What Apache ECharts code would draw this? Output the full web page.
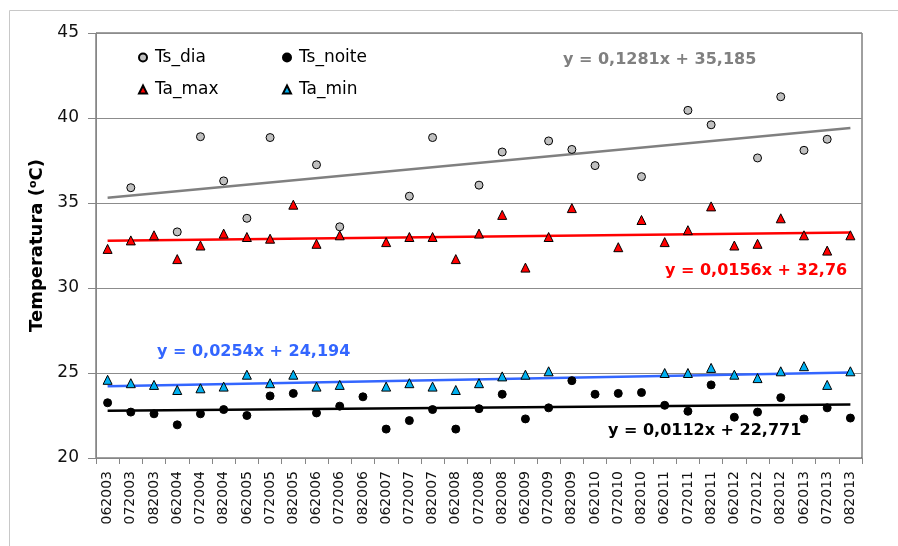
<!DOCTYPE html>
<html>
<head>
<meta charset="utf-8">
<script src="https://cdn.jsdelivr.net/npm/echarts@6/dist/echarts.min.js"></script>
<style>
html,body{margin:0;padding:0;background:#fff;}
#chart{width:898px;height:546px;}
</style>
</head>
<body>
<div id="chart"></div>
<script>
var categories = ['062003','072003','082003','062004','072004','082004','062005','072005','082005',
  '062006','072006','082006','062007','072007','082007','062008','072008','082008',
  '062009','072009','082009','062010','072010','082010','062011','072011','082011',
  '062012','072012','082012','062013','072013','082013'];

var tsDia = [null,35.9,null,33.3,38.9,36.3,34.1,38.85,null,
  37.25,33.6,null,null,35.4,38.85,null,36.05,38.0,
  null,38.65,38.15,37.2,null,36.55,null,40.45,39.6,
  null,37.65,41.25,38.1,38.75,null];

var tsNoite = [23.25,22.7,22.6,21.95,22.6,22.85,22.5,23.65,23.8,
  22.65,23.05,23.6,21.7,22.2,22.85,21.7,22.9,23.75,
  22.3,22.95,24.55,23.75,23.8,23.85,23.1,22.75,24.3,
  22.4,22.7,23.55,22.3,22.95,22.35];

var taMax = [32.3,32.8,33.1,31.7,32.5,33.2,33.0,32.9,34.9,
  32.6,33.1,null,32.7,33.0,33.0,31.7,33.2,34.3,
  31.2,33.0,34.7,null,32.4,34.0,32.7,33.4,34.8,
  32.5,32.6,34.1,33.1,32.2,33.1];

var taMin = [24.6,24.4,24.3,24.0,24.1,24.2,24.9,24.4,24.9,
  24.2,24.3,null,24.2,24.4,24.2,24.0,24.4,24.8,
  24.9,25.1,null,null,null,null,25.0,25.0,25.3,
  24.9,24.7,25.1,25.4,24.3,25.1];

// trend line end values (first and last category)
var trendTsDia = [35.31, 39.41];
var trendTsNoite = [22.78, 23.14];
var trendTaMax = [32.78, 33.27];
var trendTaMin = [24.22, 25.03];

var eqTsDia = 'y = 0,1281x + 35,185';
var eqTsNoite = 'y = 0,0112x + 22,771';
var eqTaMax = 'y = 0,0156x + 32,76';
var eqTaMin = 'y = 0,0254x + 24,194';

var FONT = 'DejaVu Sans';
var chart = echarts.init(document.getElementById('chart'), null, {renderer:'canvas'});

function trend(name, vals, color) {
  var last = categories.length - 1;
  return {
    name: name, type: 'line', silent: true, symbol: 'none', z: 1,
    data: [[0, vals[0]], [last, vals[1]]],
    lineStyle: {color: color, width: 2.5},
    tooltip: {show: false}
  };
}

var legendBase = {
  itemWidth: 8, itemHeight: 8, itemGap: 0, padding: 0,
  textStyle: {fontFamily: FONT, fontSize: 17, color: '#000', padding: [0, 0, 0, 3]}
};
function lg(name, left, top) {
  return Object.assign({}, legendBase, {data: [name], left: left, top: top});
}

chart.setOption({
  animation: false,
  textStyle: {fontFamily: FONT},
  grid: {left: 96, top: 33, right: 36, bottom: 88, show: true, borderColor: '#404040', borderWidth: 1},
  legend: [lg('Ts_dia', 138, 49), lg('Ts_noite', 282, 49), lg('Ta_max', 138, 81), lg('Ta_min', 282, 81)],
  xAxis: {
    type: 'category', data: categories, boundaryGap: true,
    axisLine: {show: true, lineStyle: {color: '#868686', width: 1}},
    axisTick: {show: true, length: 6, lineStyle: {color: '#868686'}},
    axisLabel: {rotate: 90, fontSize: 14, margin: 13, color: '#111', fontFamily: FONT, interval: 0},
    splitLine: {show: false}
  },
  yAxis: {
    type: 'value', min: 20, max: 45, interval: 5,
    name: '{a|Temperatura (}{s|o}{a|C)}',
    nameLocation: 'middle', nameGap: 46, nameRotate: 90,
    nameTextStyle: {
      rich: {
        a: {fontFamily: FONT, fontSize: 18, fontWeight: 'bold', color: '#000'},
        s: {fontFamily: FONT, fontSize: 11, fontWeight: 'bold', color: '#000', verticalAlign: 'top', padding: [0,0,8,0]}
      }
    },
    axisLine: {show: true, lineStyle: {color: '#868686', width: 1}},
    axisTick: {show: true, length: 8, lineStyle: {color: '#868686'}},
    axisLabel: {fontSize: 17, margin: 17, color: '#111', fontFamily: FONT},
    splitLine: {show: true, lineStyle: {color: '#8c8c8c', width: 1}}
  },
  series: [
    trend('trend_ts_dia', trendTsDia, '#808080'),
    trend('trend_ta_max', trendTaMax, '#ff0000'),
    trend('trend_ta_min', trendTaMin, '#3366ff'),
    trend('trend_ts_noite', trendTsNoite, '#000000'),
    {name: 'Ts_dia', type: 'scatter', symbol: 'circle', symbolSize: 8, z: 3, data: tsDia,
     itemStyle: {color: '#c0c0c0', borderColor: '#000', borderWidth: 1, opacity: 1}},
    {name: 'Ts_noite', type: 'scatter', symbol: 'circle', symbolSize: 8, z: 3, data: tsNoite,
     itemStyle: {color: '#000', borderColor: '#000', borderWidth: 1, opacity: 1}},
    {name: 'Ta_max', type: 'scatter', symbol: 'triangle', symbolSize: 9, z: 3, data: taMax,
     itemStyle: {color: '#ff0000', borderColor: '#000', borderWidth: 1, opacity: 1}},
    {name: 'Ta_min', type: 'scatter', symbol: 'triangle', symbolSize: 9, z: 3, data: taMin,
     itemStyle: {color: '#00b0f0', borderColor: '#000', borderWidth: 1, opacity: 1}}
  ],
  graphic: [
    {type: 'rect', shape: {x: 9.5, y: 10.5, width: 1000, height: 1000}, style: {fill: 'none', stroke: '#c8c8c8', lineWidth: 1}, silent: true, z: -10},
    {type: 'text', left: 563, top: 52, style: {text: eqTsDia, fill: '#808080', font: 'bold 16px "DejaVu Sans"'}},
    {type: 'text', left: 665, top: 263, style: {text: eqTaMax, fill: '#ff0000', font: 'bold 16px "DejaVu Sans"'}},
    {type: 'text', left: 157, top: 344, style: {text: eqTaMin, fill: '#3366ff', font: 'bold 16px "DejaVu Sans"'}},
    {type: 'text', left: 608, top: 423, style: {text: eqTsNoite, fill: '#000000', font: 'bold 16px "DejaVu Sans"'}}
  ]
});
</script>
</body>
</html>
